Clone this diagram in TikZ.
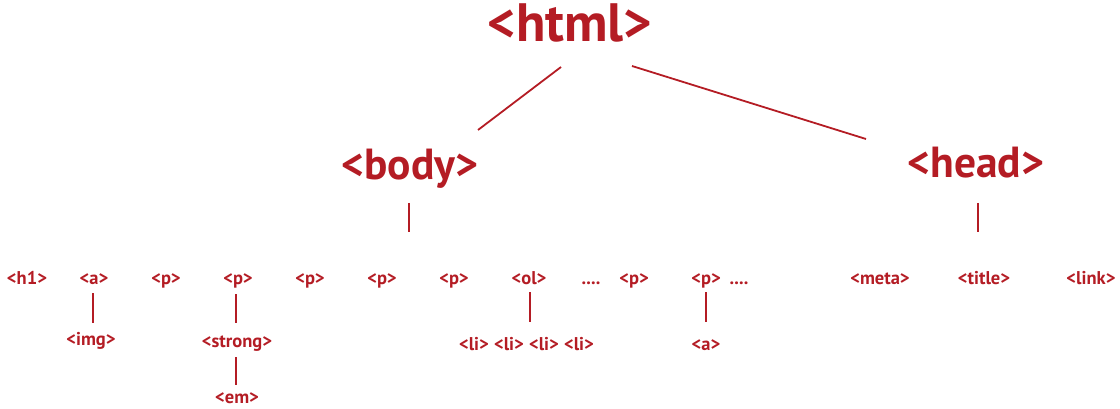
\documentclass[tikz,border=0pt]{standalone}
\usepackage{fontspec}
\setmainfont{PT Sans}
\usetikzlibrary{calc}
\definecolor{tagred}{RGB}{180,28,36}
\tikzset{
  tag/.style={inner sep=0pt, anchor=base, text=tagred, font=\bfseries\fontsize{18.5}{20}\selectfont},
  bigtag/.style={inner sep=0pt, anchor=base, text=tagred, font=\bfseries\fontsize{43.5}{46}\selectfont},
  toptag/.style={inner sep=0pt, anchor=base, text=tagred, font=\bfseries\fontsize{54}{58}\selectfont},
  link/.style={draw=tagred, line width=1.8pt},
}
\begin{document}
\begin{tikzpicture}[x=1pt,y=-1pt]
\useasboundingbox (0,0) rectangle (1120,409);
% top levels
\node[toptag] (html) at (570,42) {<html>};
\node[bigtag] (body) at (410,180) {<body>};
\node[bigtag] (head) at (976,178) {<head>};
% body children
\node[tag] (h1) at (27,284) {<h1>};
\node[tag] (a1) at (94,284) {<a>};
\node[tag] (p1) at (166,284) {<p>};
\node[tag] (p2) at (238,284) {<p>};
\node[tag] (p3) at (310,284) {<p>};
\node[tag] (p4) at (382,284) {<p>};
\node[tag] (p5) at (454,284) {<p>};
\node[tag] (ol) at (529,284) {<ol>};
\node[tag] (dots1) at (591,284) {....};
\node[tag] (p6) at (634,284) {<p>};
\node[tag] (p7) at (706,284) {<p>};
\node[tag] (dots2) at (739,284) {....};
% head children
\node[tag] (meta) at (880,284) {<meta>};
\node[tag] (title) at (984,284) {<title>};
\node[tag] (linkt) at (1091,284) {<link>};
% grandchildren
\node[tag] (img) at (91,345) {<img>};
\node[tag] (strong) at (237,347) {<strong>};
\node[tag] (em) at (237,403) {<em>};
\node[tag] (li1) at (474,350) {<li>};
\node[tag] (li2) at (509,350) {<li>};
\node[tag] (li3) at (544,350) {<li>};
\node[tag] (li4) at (579,350) {<li>};
\node[tag] (a2) at (706,350) {<a>};
% connectors
\draw[link] ($(html.base)+(-9,25)$) -- ($(body.base)+(68,-50)$);
\draw[link] ($(html.base)+(62,24)$) -- ($(head.base)+(-110,-39)$);
\coordinate (bodyend) at ($(body.base)+(-1,52)$);
\coordinate (headend) at ($(head.base)+(2,54)$);
\draw[link] ($(body.base)+(-1,23)$) -- (bodyend);
\draw[link] ($(head.base)+(2,25)$) -- (headend);
\draw[link] ($(a1.base)+(-1,9)$) -- ($(a1.base |- img.base)+(-1,-22)$);
\draw[link] ($(p2.base)+(-2,10)$) -- ($(p2.base |- strong.base)+(-2,-24)$);
\draw[link] ($(strong.base)+(-1,10)$) -- ($(strong.base |- em.base)+(-1,-18)$);
\draw[link] ($(ol.base)+(1,8)$) -- ($(ol.base |- li2.base)+(1,-28)$);
\draw[link] ($(p7.base)+(0,8)$) -- ($(p7.base |- a2.base)+(0,-28)$);
\end{tikzpicture}
\end{document}
